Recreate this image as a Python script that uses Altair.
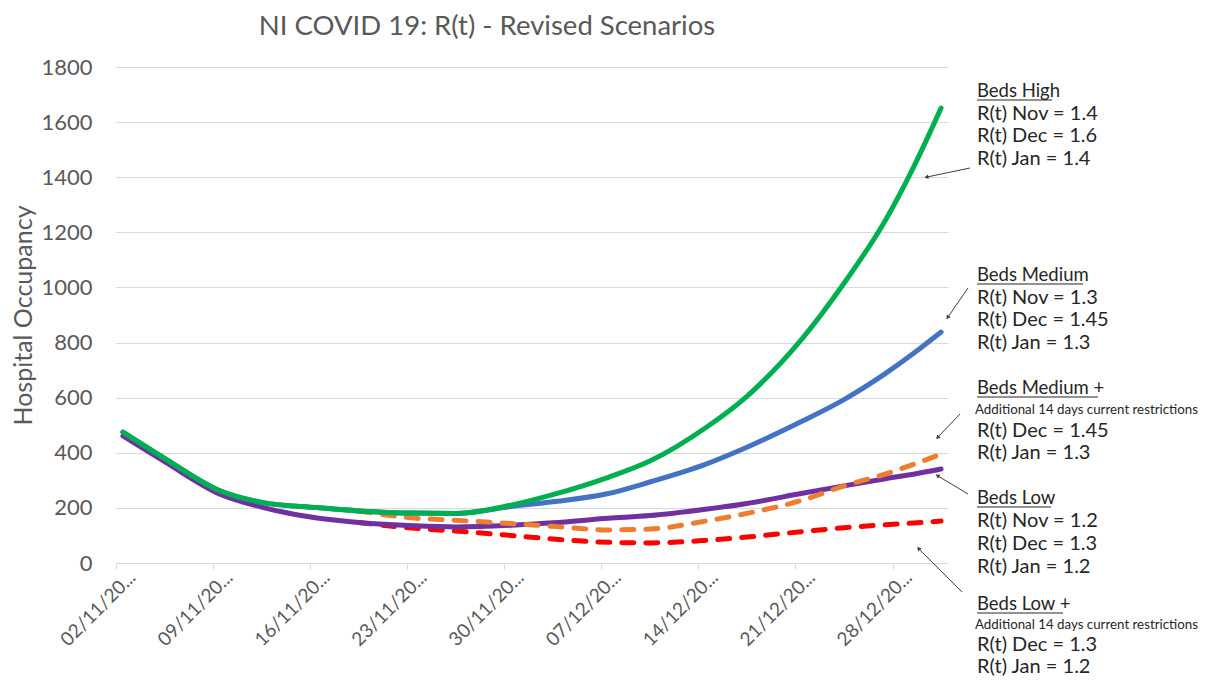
import json
import math
import pandas as pd
import altair as alt

FONT = "Lato"
GREY = "#595959"

# ---------------- data ----------------
start = pd.Timestamp("2020-11-02")
dates = ["2020-11-02", "2020-11-05", "2020-11-09", "2020-11-12", "2020-11-16",
         "2020-11-19", "2020-11-23", "2020-11-26", "2020-11-30", "2020-12-03",
         "2020-12-07", "2020-12-10", "2020-12-14", "2020-12-17", "2020-12-21",
         "2020-12-24", "2020-12-27", "2020-12-29", "2020-12-31"]
beds_high = [475, 380, 262, 220, 201, 189, 181, 180, 210, 248, 311, 370, 490,
             605, 815, 1015, 1245, 1435, 1651]
beds_medium = [475, 380, 262, 220, 201, 189, 181, 180, 205, 222, 252, 294, 358,
               420, 515, 593, 688, 760, 838]
beds_low = [461, 368, 250, 203, 163, 147, 135, 131, 137, 146, 162, 172, 195,
            216, 253, 280, 306, 322, 341]
plus_dates = dates[5:]
beds_medium_plus = [189, 163, 155, 143, 133, 120, 123, 152, 180, 228, 280, 323, 358, 395]
beds_low_plus = [147, 126, 116, 100, 87, 75, 73, 82, 94, 114, 128, 139, 145, 152]

tick_labels = ["02/11/20...", "09/11/20...", "16/11/20...", "23/11/20...",
               "30/11/20...", "07/12/20...", "14/12/20...", "21/12/20...",
               "28/12/20..."]
y_ticks = [0, 200, 400, 600, 800, 1000, 1200, 1400, 1600, 1800]

title_text = "NI COVID 19: R(t) - Revised Scenarios"
y_title = "Hospital Occupancy"

heading_high = "Beds High"
lines_high = ["R(t) Nov = 1.4", "R(t) Dec = 1.6", "R(t) Jan = 1.4"]
heading_medium = "Beds Medium"
lines_medium = ["R(t) Nov = 1.3", "R(t) Dec = 1.45", "R(t) Jan = 1.3"]
heading_medium_plus = "Beds Medium +"
note_medium_plus = "Additional 14 days current restrictions"
lines_medium_plus = ["R(t) Dec = 1.45", "R(t) Jan = 1.3"]
heading_low = "Beds Low"
lines_low = ["R(t) Nov = 1.2", "R(t) Dec = 1.3", "R(t) Jan = 1.2"]
heading_low_plus = "Beds Low +"
note_low_plus = "Additional 14 days current restrictions"
lines_low_plus = ["R(t) Dec = 1.3", "R(t) Jan = 1.2"]

# ---------------- layout ----------------
W, H = 832, 496
PAD_L, PAD_T = 108, 59
PAD_R = 1198 - PAD_L - W
PAD_B = 671 - PAD_T - H
OX, OY = PAD_L + 8, PAD_T + 8  # plot origin in page pixels

xscale = alt.Scale(domain=[0, 60], nice=False, zero=False)
yscale = alt.Scale(domain=[0, 1800], nice=False)

label_expr = json.dumps(tick_labels) + "[round(datum.value / 7)]"
xaxis = alt.Axis(values=[0, 7, 14, 21, 28, 35, 42, 49, 56], labelExpr=label_expr,
                 labelAngle=315, labelAlign="right", labelBaseline="middle",
                 labelOffset=16, labelPadding=5, tickSize=6, tickColor="#d9d9d9",
                 domainColor="#d9d9d9", grid=False, labelFont=FONT, labelFontSize=19,
                 labelColor=GREY, title=None, labelOverlap=False, labelFlush=False,
                 labelBound=False)
yaxis = alt.Axis(values=y_ticks, format="d", title=y_title, titleFont=FONT,
                 titleFontSize=25, titleFontWeight="normal", titleColor=GREY,
                 titleX=23 - OX, titleY=H / 2, titleAlign="center",
                 titleBaseline="middle", titleAngle=270,
                 labelFont=FONT, labelFontSize=22, labelColor=GREY, labelPadding=24,
                 ticks=False, domain=False, grid=True, gridColor="#d9d9d9", gridWidth=1)


def series_layer(name, ds, vals, color, dash=None):
    df = pd.DataFrame({"series": name, "date": ds, "value": vals})
    df["day"] = (pd.to_datetime(df["date"]) - start).dt.days + 0.5
    kw = dict(color=color, strokeWidth=5, interpolate="monotone", strokeCap="round")
    if dash:
        kw["strokeDash"] = dash
    return alt.Chart(df).mark_line(**kw).encode(
        x=alt.X("day:Q", scale=xscale, axis=xaxis),
        y=alt.Y("value:Q", scale=yscale, axis=yaxis),
    )


layers = [
    series_layer("Beds Low +", plus_dates, beds_low_plus, "#FF0000", [12, 12]),
    series_layer("Beds Low", dates, beds_low, "#7030A0"),
    series_layer("Beds Medium +", plus_dates, beds_medium_plus, "#ED7D31", [12, 12]),
    series_layer("Beds Medium", dates, beds_medium, "#4472C4"),
    series_layer("Beds High", dates, beds_high, "#00B050"),
]

# ---------------- annotations (page pixel positions -> plot-relative) ----------------
TX = 977
HEAD_FS, BODY_FS, NOTE_FS = 18.5, 20, 13.3
# (heading, note, body lines, heading y, underline width, row steps)
blocks = [
    (heading_high, None, lines_high, 91, 75, [22.5, 22.5, 22.5]),
    (heading_medium, None, lines_medium, 275, 106, [22.7, 22.7, 22.7]),
    (heading_medium_plus, note_medium_plus, lines_medium_plus, 388, 121, [21.7, 21, 22]),
    (heading_low, None, lines_low, 498, 74, [23, 23, 23]),
    (heading_low_plus, note_low_plus, lines_low_plus, 604, 86, [20.5, 20.5, 22]),
]
rows = []
unders = []
for head, note, body, y0, uw, steps in blocks:
    rows.append({"t": head, "px": TX - OX, "py": y0 - OY, "fs": HEAD_FS})
    unders.append({"px": TX - OX, "px2": TX - OX + uw, "py": y0 + 9 - OY})
    items = ([(note, NOTE_FS, TX - 2)] if note else []) + [(b, BODY_FS, TX) for b in body]
    y = y0
    for (t, fs, xx), st in zip(items, steps):
        y += st
        rows.append({"t": t, "px": xx - OX, "py": y - OY, "fs": fs})

ann = pd.DataFrame(rows)
ann_text = alt.Chart(ann).mark_text(align="left", baseline="middle", font=FONT,
                                    color="#262626").encode(
    x=alt.X("px:Q", scale=None, axis=None),
    y=alt.Y("py:Q", scale=None, axis=None),
    text="t:N",
    size=alt.Size("fs:Q", scale=None, legend=None),
)
ann_under = alt.Chart(pd.DataFrame(unders)).mark_rule(color="#262626", strokeWidth=1).encode(
    x=alt.X("px:Q", scale=None, axis=None),
    x2="px2:Q",
    y=alt.Y("py:Q", scale=None, axis=None),
)

arrows_page = [
    (970, 168, 927, 177),
    (968, 288, 948, 317),
    (960, 414, 938, 437),
    (968, 494, 938, 476),
    (962, 592, 919, 549),
]
arr = pd.DataFrame([{"x1": a - OX, "y1": b - OY, "x2": c - OX, "y2": d - OY,
                     "ang": (math.degrees(math.atan2(c - a, -(d - b))) + 360) % 360}
                    for a, b, c, d in arrows_page])
arrow_lines = alt.Chart(arr).mark_rule(color="#404040", strokeWidth=1).encode(
    x=alt.X("x1:Q", scale=None, axis=None), y=alt.Y("y1:Q", scale=None, axis=None),
    x2="x2:Q", y2="y2:Q",
)
arrow_heads = alt.Chart(arr).mark_point(shape="triangle", filled=True, size=22,
                                        color="#404040", opacity=1).encode(
    x=alt.X("x2:Q", scale=None, axis=None), y=alt.Y("y2:Q", scale=None, axis=None),
    angle=alt.Angle("ang:Q", scale=None),
)

title = alt.Chart(pd.DataFrame({"t": [title_text], "px": [487 - OX], "py": [27 - OY]})).mark_text(
    align="center", baseline="middle", font=FONT, fontSize=27.5, color=GREY
).encode(
    x=alt.X("px:Q", scale=None, axis=None),
    y=alt.Y("py:Q", scale=None, axis=None),
    text="t:N",
)

chart = alt.layer(*layers, ann_under, ann_text, arrow_lines, arrow_heads, title).properties(
    width=W, height=H,
    autosize=alt.AutoSizeParams(type="none"),
    padding={"left": PAD_L, "top": PAD_T, "right": PAD_R, "bottom": PAD_B},
    background="white",
).configure_view(stroke=None, clip=False)

chart.save("out.html", embed_options={"renderer": "svg", "actions": False})
